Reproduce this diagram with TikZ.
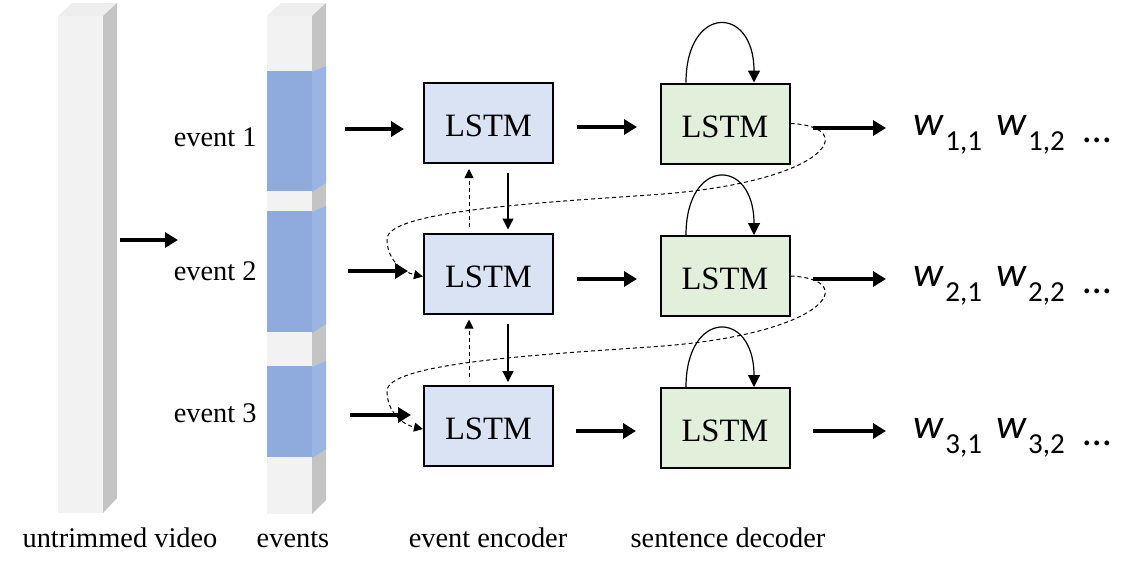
\documentclass[tikz,border=0pt]{standalone}
\usepackage{fontspec}
\setmainfont{Liberation Serif}
\newfontfamily\calfont{Carlito}
\usetikzlibrary{arrows.meta,calc}

\definecolor{barfront}{HTML}{F2F2F2}
\definecolor{barside}{HTML}{C4C4C4}
\definecolor{bartop}{HTML}{EEEEEE}
\definecolor{evfront}{HTML}{8FAADC}
\definecolor{evside}{HTML}{99B5E6}
\definecolor{encfill}{HTML}{DAE3F3}
\definecolor{decfill}{HTML}{E2EFDA}

\newcommand{\wrow}[1]{{\fontsize{21}{24}\selectfont\calfont\itshape w}\hspace{1pt}\raisebox{-7.5pt}{\fontsize{14.5}{16}\selectfont\calfont #1,1}\hspace{7pt}{\fontsize{21}{24}\selectfont\calfont\itshape w}\hspace{1pt}\raisebox{-7.5pt}{\fontsize{14.5}{16}\selectfont\calfont #1,2}\hspace{9.5pt}\raisebox{-3.5pt}{\fontsize{20}{22}\selectfont\calfont …}}

\begin{document}
\begin{tikzpicture}[x=0.5pt,y=-0.5pt,
 encbox/.style={draw=black,line width=1pt,fill=encfill,minimum width=64.5pt,minimum height=40pt,inner sep=0pt,text height=13.8pt,text depth=0pt,font=\fontsize{16.3}{18}\selectfont},
 decbox/.style={encbox,fill=decfill},
 lbl/.style={font=\fontsize{14.2}{16}\selectfont,inner sep=0pt},
 outtxt/.style={anchor=base west,inner sep=0pt},
 bigarrow/.style={line width=2.2pt,-{Triangle[length=6.5pt,width=7.5pt]}},
 thinarrow/.style={line width=0.6pt,-{Triangle[length=5.5pt,width=5.5pt]}},
 dasharrow/.style={line width=0.5pt,dash pattern=on 2pt off 1.5pt,-{Triangle[length=4.5pt,width=4.5pt]}},
 looparrow/.style={line width=0.6pt,-{Triangle[length=6pt,width=6pt]}}
]
\useasboundingbox (0,0) rectangle (1135,570);

% untrimmed video bar
\fill[barfront] (58,16) rectangle (103,513);
\fill[bartop] (58,16) -- (72,3) -- (117,3) -- (103,16) -- cycle;
\fill[barside] (103,16) -- (117,3) -- (117,498) -- (103,513) -- cycle;

% events bar
\fill[barfront] (267,16) rectangle (312,514);
\fill[bartop] (267,16) -- (281,3) -- (326,3) -- (312,16) -- cycle;
\fill[barside] (312,16) -- (326,3) -- (326,500) -- (312,514) -- cycle;
\foreach \a/\b in {71/191, 211/332, 366/457}{
  \fill[evfront] (267,\a) rectangle (312,\b);
  \fill[evside] (312,\a+1) -- (326,\a-5) -- (326,\b-8) -- (312,\b+1) -- cycle;
}

% labels
\node[lbl,anchor=base east] (ev1) at (257,146) {event 1};
\node[lbl,anchor=base east] (ev2) at (257,280) {event 2};
\node[lbl,anchor=base east] (ev3) at (257,422) {event 3};
\node[lbl,anchor=base] (lv) at (120,547) {untrimmed video};
\node[lbl,anchor=base] (le) at (293,547) {events};
\node[lbl,anchor=base] (lenc) at (488,547) {event encoder};
\node[lbl,anchor=base] (ldec) at (728,547) {sentence decoder};

% boxes
\node[encbox] (e1) at (488.5,123) {LSTM};
\node[encbox] (e2) at (488.5,273.5) {LSTM};
\node[encbox] (e3) at (488.5,426) {LSTM};
\node[decbox] (d1) at (725,123.5) {LSTM};
\node[decbox] (d2) at (725,276) {LSTM};
\node[decbox] (d3) at (725,428) {LSTM};

% outputs
\node[outtxt] (o1) at (913,135) {\wrow{1}};
\node[outtxt] (o2) at (913,286) {\wrow{2}};
\node[outtxt] (o3) at (913,438) {\wrow{3}};

% thick arrows
\coordinate (vs) at (120,240); \coordinate (vt) at (178,240);
\draw[bigarrow] (vs) -- (vt);
\coordinate (a1s) at (345,129); \coordinate (a1t) at (404,129);
\coordinate (a2s) at (348,271); \coordinate (a2t) at (408,271);
\coordinate (a3s) at (350,415); \coordinate (a3t) at (411,415);
\draw[bigarrow] (a1s) -- (a1t);
\draw[bigarrow] (a2s) -- (a2t);
\draw[bigarrow] (a3s) -- (a3t);
\coordinate (b1s) at (577,127); \coordinate (b1t) at (637,127);
\coordinate (b2s) at (577,279); \coordinate (b2t) at (637,279);
\coordinate (b3s) at (576,431); \coordinate (b3t) at (636,431);
\draw[bigarrow] (b1s) -- (b1t);
\draw[bigarrow] (b2s) -- (b2t);
\draw[bigarrow] (b3s) -- (b3t);
\coordinate (c1s) at (813,128); \coordinate (c1t) at (886,128);
\coordinate (c2s) at (813,279); \coordinate (c2t) at (886,279);
\coordinate (c3s) at (813,431); \coordinate (c3t) at (886,431);
\draw[bigarrow] (c1s) -- (c1t);
\draw[bigarrow] (c2s) -- (c2t);
\draw[bigarrow] (c3s) -- (c3t);

% encoder vertical arrows
\draw[dasharrow] ($(e2.north)+(-19.5,-6)$) -- ($(e1.south)+(-19.5,5)$);
\draw[thinarrow] ($(e1.south)+(19.5,9)$) -- ($(e2.north)+(19.5,-3)$);
\draw[dasharrow] ($(e3.north)+(-19.5,-8)$) -- ($(e2.south)+(-19.5,5)$);
\draw[thinarrow] ($(e2.south)+(19.5,9)$) -- ($(e3.north)+(19.5,-3)$);

% decoder self loops
\foreach \d in {d1,d2,d3}{
  \draw[looparrow] ($(\d.north)+(-39,0)$) .. controls +(0,-78) and +(0,-78) .. ($(\d.north)+(29,0)$);
}

% dashed recurrent links
\coordinate (m1) at (650,195); \coordinate (l1) at (387,239);
\coordinate (m2) at (650,347); \coordinate (l2) at (387,391);
\draw[dasharrow] (d1.east) .. controls +(70,3) and +(180,-12) .. (m1)
  .. controls +(-120,8) and +(0,-27) .. (l1)
  .. controls +(0,22) and +(-19,-4) .. ([yshift=-1.5pt]e2.west);
\draw[dasharrow] (d2.east) .. controls +(70,3) and +(180,-12) .. (m2)
  .. controls +(-120,8) and +(0,-27) .. (l2)
  .. controls +(0,22) and +(-19,-4) .. ([yshift=-1.5pt]e3.west);
\end{tikzpicture}
\end{document}
